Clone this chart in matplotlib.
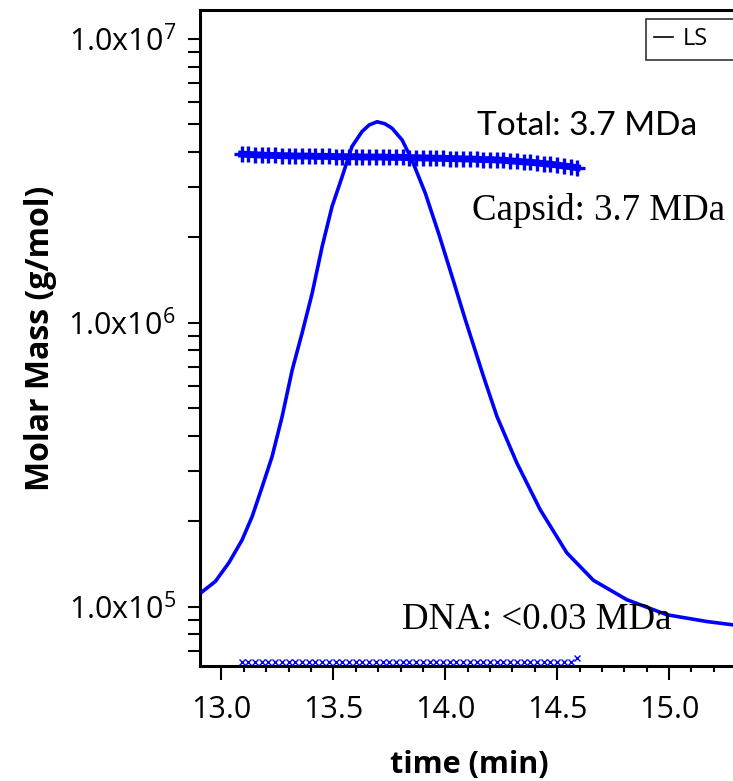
import numpy as np
import matplotlib

matplotlib.use("Agg")
import matplotlib.pyplot as plt
from matplotlib.lines import Line2D
from matplotlib.ticker import FuncFormatter, LogLocator, MultipleLocator, NullFormatter

plt.rcParams["font.family"] = ["Open Sans", "DejaVu Sans"]
plt.rcParams["mathtext.fontset"] = "custom"
plt.rcParams["mathtext.rm"] = "Open Sans"
plt.rcParams["mathtext.default"] = "rm"

BLUE = "#0000ff"

# LS trace (light scattering), plotted on the molar-mass axis
ls_time = [12.914, 12.973, 13.033, 13.092, 13.137, 13.182, 13.226, 13.271, 13.316,
           13.360, 13.405, 13.450, 13.494, 13.539, 13.583, 13.628, 13.660, 13.695,
           13.730, 13.762, 13.807, 13.851, 13.911, 13.970, 14.030, 14.089, 14.171,
           14.231, 14.320, 14.424, 14.543, 14.662, 14.811, 14.990, 15.168, 15.287]
ls_signal = [1.13e5, 1.23e5, 1.43e5, 1.72e5, 2.08e5, 2.65e5, 3.38e5, 4.68e5, 6.83e5,
             9.20e5, 1.27e6, 1.86e6, 2.57e6, 3.27e6, 4.18e6, 4.72e6, 4.98e6, 5.11e6,
             5.03e6, 4.85e6, 4.41e6, 3.75e6, 2.86e6, 2.07e6, 1.46e6, 1.03e6, 6.47e5,
             4.68e5, 3.21e5, 2.20e5, 1.55e5, 1.24e5, 1.06e5, 9.38e4, 8.88e4, 8.64e4]

# slice times for the molar-mass fits
slice_time = [13.09, 13.12, 13.15, 13.18, 13.21, 13.24, 13.27, 13.30, 13.33, 13.36,
              13.39, 13.42, 13.45, 13.48, 13.51, 13.54, 13.57, 13.60, 13.63, 13.66,
              13.69, 13.72, 13.75, 13.78, 13.81, 13.84, 13.87, 13.90, 13.93, 13.96,
              13.99, 14.02, 14.05, 14.08, 14.11, 14.14, 14.17, 14.20, 14.23, 14.26,
              14.29, 14.32, 14.35, 14.38, 14.41, 14.44, 14.47, 14.50, 14.53, 14.56,
              14.59]
# total molar mass, MDa
total_mda = [3.93, 3.92, 3.91, 3.90, 3.89, 3.89, 3.88, 3.88, 3.87, 3.87,
             3.87, 3.86, 3.86, 3.86, 3.85, 3.85, 3.85, 3.85, 3.84, 3.84,
             3.84, 3.84, 3.83, 3.83, 3.83, 3.82, 3.82, 3.81, 3.81, 3.80,
             3.80, 3.79, 3.79, 3.78, 3.78, 3.77, 3.76, 3.76, 3.75, 3.74,
             3.72, 3.71, 3.69, 3.68, 3.66, 3.64, 3.62, 3.60, 3.57, 3.55,
             3.52]
# DNA molar mass, MDa
dna_mda = [0.064, 0.064, 0.064, 0.064, 0.064, 0.064, 0.064, 0.064, 0.064, 0.064,
           0.064, 0.064, 0.064, 0.064, 0.064, 0.064, 0.064, 0.064, 0.064, 0.064,
           0.064, 0.064, 0.064, 0.064, 0.064, 0.064, 0.064, 0.064, 0.064, 0.064,
           0.064, 0.064, 0.064, 0.064, 0.064, 0.064, 0.064, 0.064, 0.064, 0.064,
           0.064, 0.064, 0.064, 0.064, 0.064, 0.064, 0.064, 0.064, 0.064, 0.064,
           0.066]

total_mass = np.array(total_mda) * 1e6
dna_mass = np.array(dna_mda) * 1e6

W, H = 733, 781
fig = plt.figure(figsize=(W / 100, H / 100), dpi=100)
# axes run slightly past the right edge of the picture (cropped original)
ax = fig.add_axes([200 / W, (H - 666) / H, 538 / W, 656 / H])

ax.plot(ls_time, ls_signal, color=BLUE, lw=2.6, zorder=3)
ax.plot(slice_time, total_mass, color=BLUE, lw=5, marker="+", ms=11, mew=2.4,
        zorder=4)
ax.plot(slice_time, dna_mass, color=BLUE, lw=0, marker="x", ms=4.2, mew=1.0,
        zorder=4)

ax.set_yscale("log")
ax.set_xlim(12.904, 15.308)
ax.set_ylim(6.19e4, 1.265e7)

ax.xaxis.set_major_locator(MultipleLocator(0.5))
ax.xaxis.set_minor_locator(MultipleLocator(0.1))
ax.xaxis.set_major_formatter(FuncFormatter(lambda v, pos: f"{v:.1f}"))
ax.yaxis.set_major_locator(LogLocator(base=10))
ax.yaxis.set_minor_locator(LogLocator(base=10, subs=np.arange(2, 10)))
ax.yaxis.set_major_formatter(
    FuncFormatter(lambda v, pos: rf"1.0x10$^{{{int(round(np.log10(v)))}}}$"))
ax.yaxis.set_minor_formatter(NullFormatter())

for side in ("left", "bottom", "top"):
    ax.spines[side].set_linewidth(2.2)
ax.spines["right"].set_visible(False)
ax.tick_params(axis="x", which="major", length=10, width=1.5, pad=11, labelsize=22)
ax.tick_params(axis="x", which="minor", length=4.5, width=1.5)
ax.tick_params(axis="y", which="both", length=8.5, width=1.5, pad=9, labelsize=22)

ax.set_xlabel("time (min)", fontsize=22, fontweight="bold")
ax.set_ylabel("Molar Mass (g/mol)", fontsize=23, fontweight="bold")
ax.xaxis.set_label_coords(0.5, -0.128)
ax.yaxis.set_label_coords(-0.265, 0.5)

ax.text(14.142, 4.93e6, "Total: 3.7 MDa", fontsize=24, family=["Lato", "DejaVu Sans"],
        ha="left", va="center")
ax.text(14.119, 2.30e6, "Capsid: 3.7 MDa", fontsize=26.6, family=["Liberation Serif"],
        ha="left", va="baseline")
ax.text(13.807, 8.38e4, "DNA: <0.03 MDa", fontsize=26.6, family=["Liberation Serif"],
        ha="left", va="baseline")

# legend frame runs past the right edge, as in the cropped original
handle = Line2D([], [], color="black", lw=1.2)
x0 = (646 - 200) / 538
y_top = (666 - 19) / 656
leg = ax.legend([handle], ["LS"], loc="upper left",
                bbox_to_anchor=(x0, y_top - 0.1, 0.22, 0.1), mode="expand",
                borderaxespad=0, fontsize=17, handlelength=0.8, handletextpad=0.4,
                borderpad=0.35, fancybox=False, frameon=True)
leg.get_frame().set_edgecolor("black")
leg.get_frame().set_linewidth(1.2)

fig.savefig("out.png", dpi=100)
